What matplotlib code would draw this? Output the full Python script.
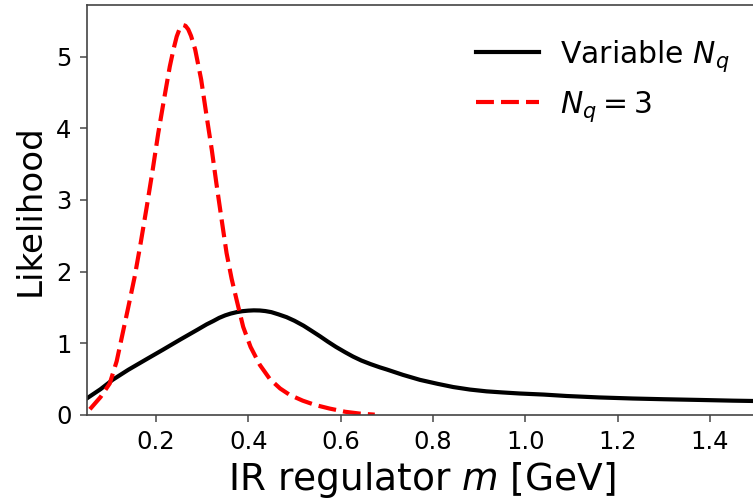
import matplotlib
matplotlib.use("Agg")
import matplotlib.pyplot as plt

m_var = [0.05, 0.08, 0.106, 0.14, 0.18, 0.215, 0.252, 0.29, 0.31, 0.324, 0.337, 0.35,
         0.362, 0.375, 0.387, 0.40, 0.412, 0.425, 0.437, 0.45, 0.465, 0.483, 0.50, 0.52,
         0.537, 0.555, 0.572, 0.59, 0.61, 0.627, 0.645, 0.665, 0.685, 0.70, 0.735, 0.772,
         0.81, 0.844, 0.88, 0.916, 0.95, 0.988, 1.04, 1.09, 1.16, 1.233, 1.30, 1.378,
         1.45, 1.5]
L_var = [0.23, 0.36, 0.49, 0.63, 0.78, 0.91, 1.05, 1.19, 1.265, 1.31, 1.355, 1.39,
         1.415, 1.435, 1.448, 1.456, 1.46, 1.458, 1.45, 1.435, 1.405, 1.365, 1.315, 1.245,
         1.175, 1.1, 1.025, 0.95, 0.875, 0.815, 0.76, 0.71, 0.665, 0.635, 0.56, 0.49,
         0.435, 0.39, 0.355, 0.33, 0.315, 0.30, 0.285, 0.265, 0.245, 0.23, 0.22, 0.21,
         0.20, 0.195]

m_nq3 = [0.057, 0.08, 0.10, 0.115, 0.128, 0.14, 0.154, 0.167, 0.18, 0.193, 0.205, 0.218,
         0.23, 0.238, 0.245, 0.252, 0.259, 0.264, 0.27, 0.276, 0.285, 0.298, 0.31, 0.321,
         0.331, 0.342, 0.353, 0.364, 0.375, 0.389, 0.405, 0.425, 0.447, 0.469, 0.49, 0.518,
         0.545, 0.576, 0.61, 0.641, 0.674]
L_nq3 = [0.08, 0.25, 0.44, 0.75, 1.14, 1.5, 1.93, 2.4, 2.9, 3.42, 3.93, 4.42,
         4.86, 5.1, 5.28, 5.4, 5.44, 5.43, 5.38, 5.29, 5.1, 4.68, 4.16, 3.7,
         3.23, 2.74, 2.26, 1.9, 1.6, 1.23, 0.95, 0.70, 0.50, 0.37, 0.28, 0.20,
         0.14, 0.09, 0.045, 0.02, 0.005]

xticks = [0.2, 0.4, 0.6, 0.8, 1.0, 1.2, 1.4]
yticks = [0, 1, 2, 3, 4, 5]

fig = plt.figure(figsize=(7.53, 5), dpi=100)
ax = fig.add_axes([0.1151, 0.17, 0.889, 0.82])

ax.plot(m_var, L_var, color="black", lw=3, label="Variable $N_q$")
ax.plot(m_nq3, L_nq3, color="red", lw=3, ls=(0, (4.3, 1.7)), label="$N_q=3$")

ax.set_xlim(0.05, 1.5)
ax.set_ylim(0, 5.72)
ax.set_xticks(xticks)
ax.set_yticks(yticks)
ax.tick_params(labelsize=17.5, length=5, width=1.2, color="#555555", pad=6)
for s in ax.spines.values():
    s.set_color("#444444")
    s.set_linewidth(1.2)

ax.set_xlabel("IR regulator $m$ [GeV]", fontsize=27, labelpad=4)
ax.set_ylabel("Likelihood", fontsize=24.5, labelpad=7)
ax.legend(loc="upper right", fontsize=21.5, frameon=False, handlelength=2.1,
          handletextpad=0.7, bbox_to_anchor=(1.0, 0.985))

fig.savefig("out.png", dpi=100)
